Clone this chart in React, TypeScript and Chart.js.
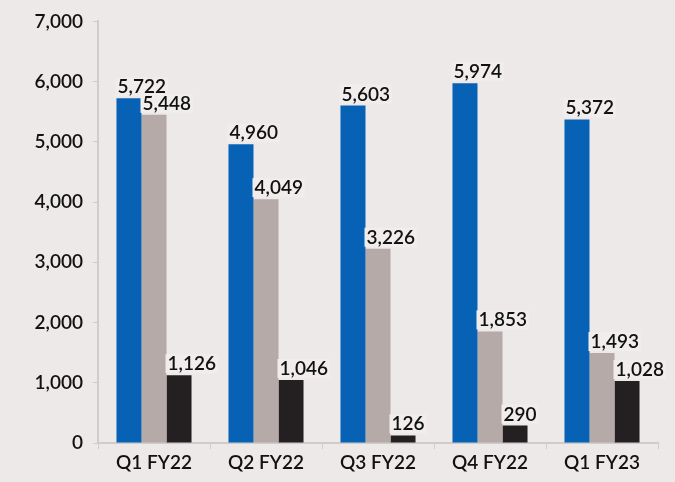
import React, { useEffect, useRef } from "react";
import { Chart, registerables } from "chart.js";

Chart.register(...registerables);

const categories = ["Q1 FY22", "Q2 FY22", "Q3 FY22", "Q4 FY22", "Q1 FY23"];
const blueValues = [5722, 4960, 5603, 5974, 5372];
const greyValues = [5448, 4049, 3226, 1853, 1493];
const blackValues = [1126, 1046, 126, 290, 1028];
const yMin = 0;
const yMax = 7000;
const yStep = 1000;

const BG = "#EDE9E8";
const FONT = "Lato, 'Open Sans', sans-serif";
const WEIGHT = "600";

const fmt = (v: number) => v.toLocaleString("en-US");

const labelPlugin = {
  id: "barLabels",
  afterDatasetsDraw(chart: any) {
    const ctx = chart.ctx;
    ctx.save();
    ctx.font = `${WEIGHT} 19px ${FONT}`;
    ctx.textAlign = "left";
    ctx.textBaseline = "alphabetic";
    chart.data.datasets.forEach((ds: any, di: number) => {
      const meta = chart.getDatasetMeta(di);
      meta.data.forEach((bar: any, i: number) => {
        const txt = fmt(ds.data[i]);
        const x = bar.x - bar.width / 2 + 1;
        const y = bar.y - 5;
        const w = ctx.measureText(txt).width;
        ctx.fillStyle = "#F0EDEC";
        ctx.fillRect(x - 2, y - 16, w + 4, 19);
        ctx.fillStyle = "#111111";
        ctx.fillText(txt, x, y);
      });
    });
    ctx.restore();
  },
};

export default function App() {
  const ref = useRef<HTMLCanvasElement>(null);
  useEffect(() => {
    document.body.style.margin = "0";
    document.body.style.background = BG;
    const chart = new Chart(ref.current!, {
      type: "bar",
      data: {
        labels: categories,
        datasets: [
          { data: blueValues, backgroundColor: "#0762B6" },
          { data: greyValues, backgroundColor: "#B5AAA7" },
          { data: blackValues, backgroundColor: "#242021" },
        ],
      },
      options: {
        animation: false,
        responsive: false,
        maintainAspectRatio: false,
        layout: { padding: { left: 0, right: 17, top: 18, bottom: 0 } },
        plugins: { legend: { display: false }, tooltip: { enabled: false } },
        datasets: { bar: { barPercentage: 1, categoryPercentage: 0.67 } },
        scales: {
          x: {
            grid: {
              display: true,
              drawOnChartArea: false,
              drawTicks: true,
              tickLength: 6,
              color: "#CFCCCB",
              offset: true,
            },
            border: { display: true, color: "#CFCCCB", width: 2 },
            ticks: {
              color: "#111111",
              font: { family: FONT, size: 19, weight: WEIGHT },
              padding: 2,
            },
            afterFit(scale: any) {
              scale.height = 39;
            },
          },
          y: {
            min: yMin,
            max: yMax,
            grid: {
              display: true,
              drawOnChartArea: false,
              drawTicks: true,
              tickLength: 5,
              color: "#CFCCCB",
            },
            border: { display: true, color: "#CFCCCB", width: 2 },
            ticks: {
              stepSize: yStep,
              color: "#111111",
              font: { family: FONT, size: 19, weight: WEIGHT },
              padding: 10,
              callback: (v: any) => fmt(Number(v)),
            },
            afterFit(scale: any) {
              scale.width = 98;
            },
          },
        },
      },
      plugins: [labelPlugin],
    });
    return () => chart.destroy();
  }, []);
  return (
    <div style={{ width: 675, height: 482, background: BG, position: "relative" }}>
      <canvas ref={ref} width={675} height={482} />
    </div>
  );
}
